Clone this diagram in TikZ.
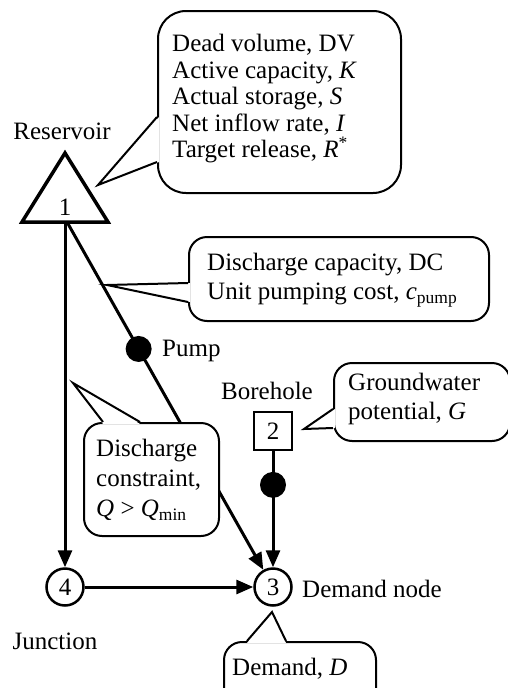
\documentclass[tikz,border=0pt]{standalone}
\usepackage{fontspec}
\setmainfont{Liberation Serif}
\usetikzlibrary{arrows.meta}
\begin{document}
\begin{tikzpicture}[x=1pt,y=-1pt,
  txt/.style={font=\fontsize{25}{26.5}\selectfont, inner sep=0pt, align=left},
  flow/.style={line width=3pt, -{Triangle[length=17pt,width=14pt]}},
  junc/.style={circle, draw, fill=white, line width=2.5pt, minimum size=37pt, inner sep=0pt, font=\fontsize{25}{26}\selectfont, text depth=-3pt},
  sqnode/.style={rectangle, draw, fill=white, line width=2.5pt, minimum size=38pt, inner sep=0pt, font=\fontsize{25}{26}\selectfont},
  pumpdot/.style={circle, fill=black, minimum size=26pt, inner sep=0pt},
  cbox/.style={draw, fill=white, line width=2pt, inner sep=0pt, anchor=north west},
  cline/.style={line width=2pt, line join=miter},
]
\useasboundingbox (0,0) rectangle (507,688);

% reservoir triangle
\draw[line width=3.5pt, line join=miter] (65,153) -- (108,222) -- (22,222) -- cycle;
\node[txt] (n1) at (65,207) {1};
\coordinate (r1v) at (65,222);
\coordinate (r1d) at (67,222);
\node[txt] (reslbl) at (62,131) {Reservoir};

% other nodes
\node[junc] (n4) at (65,587) {4};
\node[junc] (n3) at (273,587) {3};
\node[sqnode] (n2) at (273,431) {2};

% connectors
\draw[flow] (r1v) -- (n4);
\draw[flow] (r1d) -- node[pumpdot, pos=0.365] (p1) {} (n3);
\draw[flow] (n2) -- node[pumpdot, pos=0.29] (p2) {} (n3);
\draw[flow] (n4) -- (n3);

% labels
\node[txt, anchor=west] (pumplbl) at (162,351) {Pump};
\node[txt] (borelbl) at (267,391) {Borehole};
\node[txt, anchor=west] (demlbl) at (302,589) {Demand node};
\node[txt] (junclbl) at (55,641) {Junction};

% callout 1 (reservoir)
\node[cbox, rounded corners=28pt, minimum width=243pt, minimum height=182pt] (c1) at (157,10) {};
\fill[white] (159,117) -- (98,185) -- (159,162) -- cycle;
\draw[cline] (157,117) -- (98,185) -- (157,162);
\node[txt, anchor=west, font=\fontsize{25}{26.5}\selectfont] (t1) at (172,99)
  {Dead volume, DV\\Active capacity, \textit{K}\\Actual storage, \textit{S}\\Net inflow rate, \textit{I}\\Target release, \textit{R}\textsuperscript{*}};

% callout 2 (pump)
\node[cbox, rounded corners=18pt, minimum width=300pt, minimum height=84pt] (c2) at (188,236) {};
\fill[white] (190,283) -- (107,285) -- (190,302) -- cycle;
\draw[cline] (188,283) -- (107,285) -- (188,302);
\node[txt, anchor=west, font=\fontsize{25}{29}\selectfont] (t2) at (207,280)
  {Discharge capacity, DC\\Unit pumping cost, \textit{c}\textsubscript{pump}};

% callout 3 (discharge constraint)
\node[cbox, rounded corners=18pt, minimum width=135pt, minimum height=113pt] (c3) at (83,422) {};
\fill[white] (103,424) -- (73,383) -- (140,424) -- cycle;
\draw[cline] (103,422) -- (73,383) -- (140,422);
\node[txt, anchor=west, font=\fontsize{25}{30}\selectfont] (t3) at (96,480)
  {Discharge\\constraint,\\\textit{Q} > \textit{Q}\textsubscript{min}};

% callout 4 (groundwater)
\node[cbox, rounded corners=18pt, minimum width=176pt, minimum height=78pt] (c4) at (333,362) {};
\fill[white] (335,409) -- (304,429) -- (335,428) -- cycle;
\draw[cline] (333,409) -- (304,429) -- (333,428);
\node[txt, anchor=west, font=\fontsize{25}{29}\selectfont] (t4) at (348,399)
  {Groundwater\\potential, \textit{G}};

% callout 5 (demand)
\node[cbox, rounded corners=18pt, minimum width=152pt, minimum height=80pt] (c5) at (223,641) {};
\fill[white] (247,643) -- (272,612) -- (286,643) -- cycle;
\draw[cline] (247,641) -- (272,612) -- (286,641);
\node[txt, anchor=west] (t5) at (232,669) {Demand, \textit{D}};
\end{tikzpicture}
\end{document}
